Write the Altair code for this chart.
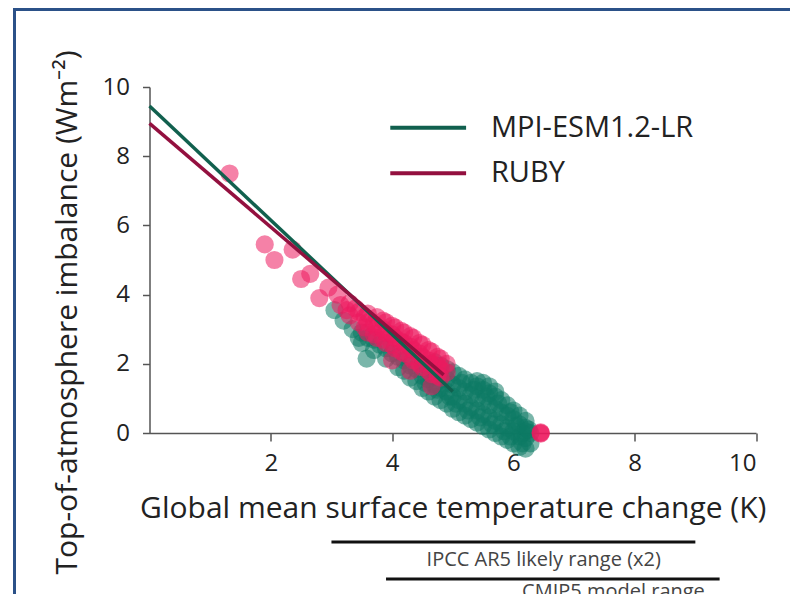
import altair as alt
import pandas as pd

series_names = ["MPI-ESM1.2-LR", "RUBY"]
point_colors = ["#0C7A64", "#EC1A5E"]
fit_colors = ["#11604E", "#93103F"]

# scatter clouds (x = K, y = W m-2)
mpi_points = [
    (3.05, 3.55), (3.2, 3.25), (3.35, 3.0), (3.58, 2.15), (3.45, 2.75),
    (3.5, 2.6), (3.5, 2.9), (3.6, 2.75), (3.7, 2.4), (3.7, 2.7), (3.8, 2.55),
    (3.9, 2.15), (3.9, 2.45), (4.0, 2.3), (4.1, 1.9), (4.1, 2.2), (4.2, 1.8),
    (4.2, 2.1), (4.3, 1.6), (4.3, 1.95), (4.4, 1.5), (4.4, 1.85),
    (4.5, 1.3), (4.5, 1.65), (4.5, 2.0), (4.6, 1.2), (4.6, 1.55), (4.6, 1.9),
    (4.7, 1.05), (4.7, 1.4), (4.7, 1.75), (4.7, 2.05),
    (4.8, 0.95), (4.8, 1.3), (4.8, 1.65), (4.8, 1.95),
    (4.9, 0.85), (4.9, 1.2), (4.9, 1.55), (4.9, 1.85),
    (5.0, 0.7), (5.0, 1.05), (5.0, 1.4), (5.0, 1.75),
    (5.1, 0.6), (5.1, 0.95), (5.1, 1.3), (5.1, 1.65),
    (5.2, 0.5), (5.2, 0.85), (5.2, 1.2), (5.2, 1.55),
    (5.3, 0.4), (5.3, 0.75), (5.3, 1.1), (5.3, 1.45),
    (5.4, 0.3), (5.4, 0.65), (5.4, 1.0), (5.4, 1.35), (5.4, 1.5),
    (5.5, 0.2), (5.5, 0.55), (5.5, 0.9), (5.5, 1.25), (5.5, 1.45),
    (5.6, 0.1), (5.6, 0.45), (5.6, 0.8), (5.6, 1.15), (5.6, 1.35),
    (5.7, 0.0), (5.7, 0.35), (5.7, 0.7), (5.7, 1.05), (5.7, 1.2),
    (5.8, -0.1), (5.8, 0.25), (5.8, 0.6), (5.8, 0.95),
    (5.9, -0.2), (5.9, 0.15), (5.9, 0.5), (5.9, 0.8),
    (6.0, -0.3), (6.0, 0.05), (6.0, 0.4), (6.0, 0.65),
    (6.1, -0.4), (6.1, -0.1), (6.1, 0.25), (6.1, 0.5),
    (6.2, -0.45), (6.2, -0.15), (6.2, 0.15), (6.2, 0.35),
    (6.28, -0.3), (6.28, 0.0), (6.15, 0.0), (6.2, 0.05),
    (5.05, 0.85), (5.25, 0.65), (5.45, 0.45), (5.65, 0.25), (5.85, 0.05),
    (5.15, 1.45), (5.35, 1.25), (5.55, 1.05), (5.75, 0.85), (5.95, 0.6),
    (4.55, 1.45), (4.75, 1.25), (4.95, 1.05), (4.65, 1.65), (4.85, 1.45),
    (6.05, 0.2), (6.15, -0.3), (5.95, -0.1), (6.25, 0.1),
]
ruby_points = [
    (1.32, 7.5), (1.9, 5.45), (2.06, 5.0), (2.36, 5.3), (2.5, 4.45),
    (2.65, 4.6), (2.8, 3.9), (2.95, 4.2), (3.1, 4.0), (3.15, 3.7),
    (3.25, 3.55), (3.3, 3.4), (3.3, 3.75), (3.4, 3.6), (3.45, 3.2), (3.45, 3.5),
    (3.55, 3.05), (3.55, 3.35), (3.6, 2.9), (3.6, 3.2), (3.6, 3.45),
    (3.7, 2.85), (3.7, 3.15), (3.75, 2.75), (3.75, 3.05), (3.75, 3.35),
    (3.85, 2.7), (3.85, 3.0), (3.85, 3.25), (3.9, 2.6), (3.9, 2.9), (3.9, 3.2),
    (4.0, 2.55), (4.0, 2.85), (4.0, 3.1), (4.05, 2.45), (4.05, 2.75), (4.05, 3.05),
    (4.15, 2.35), (4.15, 2.65), (4.15, 2.95), (4.2, 2.3), (4.2, 2.6), (4.2, 2.9),
    (4.3, 2.2), (4.3, 2.5), (4.3, 2.8), (4.35, 2.1), (4.35, 2.4), (4.35, 2.75),
    (4.45, 2.0), (4.45, 2.3), (4.45, 2.6), (4.5, 1.9), (4.5, 2.2), (4.5, 2.55),
    (4.6, 1.8), (4.6, 2.1), (4.6, 2.4), (4.65, 1.7), (4.65, 2.0), (4.65, 2.35),
    (4.75, 1.65), (4.75, 1.95), (4.75, 2.2), (4.8, 1.6), (4.8, 1.85), (4.8, 2.15),
    (4.9, 1.75), (4.9, 2.0),
    (4.0, 2.1), (4.3, 1.8), (4.65, 1.35),
    (6.45, 0.0), (6.45, 0.02), (6.45, -0.02),
]

# linear fits (end points)
fit_series = ["MPI-ESM1.2-LR", "MPI-ESM1.2-LR", "RUBY", "RUBY"]
fit_x = [0.0, 5.0, 0.0, 4.85]
fit_y = [9.45, 1.2, 8.95, 1.68]

# legend placement (in axis units)
legend_x0 = [3.97, 3.97]
legend_x1 = [5.22, 5.22]
legend_y = [8.82, 7.51]
legend_text_x = [5.63, 5.63]

# ranges drawn under the x axis
range_labels = ["IPCC AR5 likely range (x2)", "CMIP5 model range"]
range_lo = [3.0, 3.9]
range_hi = [9.0, 9.4]
range_label_x = [6.5, 7.65]

x_ticks = [2, 4, 6, 8, 10]
y_ticks = [0, 2, 4, 6, 8, 10]

pts = pd.DataFrame(
    [{"model": series_names[0], "dT": x, "N": y} for x, y in mpi_points]
    + [{"model": series_names[1], "dT": x, "N": y} for x, y in ruby_points]
)
fits = pd.DataFrame({"series": fit_series, "dT": fit_x, "N": fit_y})
leg = pd.DataFrame({"series": series_names, "x0": legend_x0, "x1": legend_x1,
                    "y": legend_y, "tx": legend_text_x})
ranges = pd.DataFrame({"label": range_labels, "lo": range_lo, "hi": range_hi, "lx": range_label_x})

W, H = 606.5, 346
FONT = "Open Sans"

xscale = alt.Scale(domain=[0, 10], nice=False, zero=False)
yscale = alt.Scale(domain=[0, 10], nice=False, zero=False)
line_color = alt.Scale(domain=series_names, range=fit_colors)

x_axis = alt.Axis(values=x_ticks, format="d", title="Global mean surface temperature change (K)",
                  grid=False, tickSize=8, labelPadding=10, labelFontSize=24,
                  titleFontSize=30, titleFontWeight="normal", titlePadding=18)
y_axis = alt.Axis(values=y_ticks, format="d", title="Top-of-atmosphere imbalance (Wm\u207b\u00b2)",
                  grid=False, tickSize=7, labelPadding=13, labelFontSize=24,
                  titleFontSize=30, titleFontWeight="normal",
                  titleAngle=270, titleX=-82, titleY=225, titleAlign="center",
                  titleBaseline="middle")

points = alt.Chart(pts).mark_circle(size=330, opacity=0.55).encode(
    x=alt.X("dT:Q", scale=xscale, axis=x_axis),
    y=alt.Y("N:Q", scale=yscale, axis=y_axis),
    fill=alt.Fill("model:N", scale=alt.Scale(domain=series_names, range=point_colors), legend=None),
    order=alt.Order("model:N"),
)

lines = alt.Chart(fits).mark_line(strokeWidth=3.5).encode(
    x=alt.X("dT:Q", scale=xscale),
    y=alt.Y("N:Q", scale=yscale),
    color=alt.Color("series:N", scale=line_color, legend=None),
)

legend_lines = alt.Chart(leg).mark_rule(strokeWidth=4).encode(
    x=alt.X("x0:Q", scale=xscale), x2="x1:Q",
    y=alt.Y("y:Q", scale=yscale),
    color=alt.Color("series:N", scale=line_color, legend=None),
)
legend_text = alt.Chart(leg).mark_text(fontSize=29, font=FONT, color="#222", align="left",
                                       baseline="middle").encode(
    x=alt.X("tx:Q", scale=xscale), y=alt.Y("y:Q", scale=yscale), text="series:N",
)

def range_layer(i, y_rule, y_text):
    base = alt.Chart(ranges).transform_filter(alt.datum.label == range_labels[i])
    rule = base.mark_rule(color="#111", strokeWidth=3).encode(
        x="lo:Q", x2="hi:Q", y=alt.value(y_rule))
    text = base.mark_text(fontSize=20, color="#444", font=FONT, baseline="middle").encode(
        x="lx:Q", y=alt.value(y_text), text="label:N")
    return rule + text

frame_top = alt.Chart(pd.DataFrame({"k": [0]})).mark_rule(color="#2B5188", strokeWidth=3).encode(
    x=alt.value(-135), x2=alt.value(660), y=alt.value(-77.5))
frame_left = alt.Chart(pd.DataFrame({"k": [0]})).mark_rule(color="#2B5188", strokeWidth=3).encode(
    x=alt.value(-135), y=alt.value(-79), y2=alt.value(520))

chart = alt.layer(
    points, lines, legend_lines, legend_text,
    range_layer(0, 455, 473), range_layer(1, 492, 505), frame_top, frame_left
).properties(
    width=W, height=H,
    autosize=alt.AutoSizeParams(type="none"),
    padding={"left": 141.5, "top": 79, "right": 34, "bottom": 161},
    background="white",
).configure_view(stroke=None).configure_axis(
    domainColor="#555", tickColor="#555", domainWidth=1.5, tickWidth=1.5,
    labelColor="#222", titleColor="#222", labelFont=FONT, titleFont=FONT,
)

chart.save("out.html", embed_options={"renderer": "svg", "actions": False})
